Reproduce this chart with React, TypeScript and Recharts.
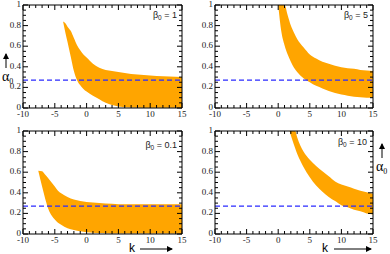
import { ComposedChart, Area, Line, XAxis, YAxis, ReferenceLine } from 'recharts'

// shared axis ticks
const xMajor = [-10, -5, 0, 5, 10, 15]
const yMajor = [0, 0.2, 0.4, 0.6, 0.8, 1]
const xTicks = [-10, -9, -8, -7, -6, -5, -4, -3, -2, -1, 0, 1, 2, 3, 4, 5, 6, 7, 8, 9, 10, 11, 12, 13, 14, 15]
const yTicks = [0, 0.05, 0.1, 0.15, 0.2, 0.25, 0.3, 0.35, 0.4, 0.45, 0.5, 0.55, 0.6, 0.65, 0.7, 0.75, 0.8, 0.85, 0.9, 0.95, 1]
const alphaRef = 0.27

// beta0 = 1
const kB1 = [-3.7, -3.3, -3, -2.5, -2, -1.5, -1, -0.5, 0, 1, 2, 3, 4, 5, 7, 9, 11, 13, 15]
const loB1 = [0.84, 0.72, 0.64, 0.5, 0.36, 0.27, 0.22, 0.185, 0.16, 0.12, 0.085, 0.05, 0.03, 0.015, 0.005, 0.003, 0.002, 0.002, 0.002]
const hiB1 = [0.84, 0.82, 0.79, 0.75, 0.68, 0.61, 0.56, 0.52, 0.49, 0.43, 0.39, 0.37, 0.36, 0.35, 0.33, 0.32, 0.31, 0.305, 0.3]

// beta0 = 5
const kB5 = [0, 0.5, 1, 1.5, 2, 2.5, 3, 4, 5, 6, 7, 8, 9, 10, 11, 12, 13, 14, 15]
const loB5 = [1, 0.74, 0.61, 0.52, 0.45, 0.39, 0.35, 0.29, 0.25, 0.215, 0.19, 0.165, 0.145, 0.13, 0.12, 0.11, 0.105, 0.1, 0.1]
const hiB5 = [1, 1, 1, 0.9, 0.8, 0.73, 0.67, 0.59, 0.52, 0.48, 0.45, 0.43, 0.41, 0.395, 0.385, 0.38, 0.37, 0.365, 0.36]

// beta0 = 0.1
const kB01 = [-7.6, -7, -6.5, -6, -5.5, -5, -4.5, -4, -3, -2, -1, 0, 1, 2, 3, 5, 7, 10, 15]
const loB01 = [0.615, 0.46, 0.34, 0.24, 0.18, 0.14, 0.11, 0.09, 0.055, 0.038, 0.026, 0.018, 0.013, 0.01, 0.008, 0.006, 0.005, 0.004, 0.003]
const hiB01 = [0.615, 0.61, 0.575, 0.54, 0.5, 0.46, 0.42, 0.395, 0.36, 0.335, 0.32, 0.31, 0.305, 0.3, 0.295, 0.29, 0.29, 0.29, 0.29]

// beta0 = 10
const kB10 = [1.8, 2.2, 2.7, 3, 3.5, 4, 5, 6, 7, 8, 9, 10, 11, 12, 13, 14, 15]
const loB10 = [1, 0.92, 0.83, 0.78, 0.71, 0.65, 0.55, 0.47, 0.41, 0.36, 0.32, 0.28, 0.26, 0.235, 0.22, 0.2, 0.19]
const hiB10 = [1, 1, 1, 0.94, 0.86, 0.8, 0.72, 0.66, 0.61, 0.56, 0.51, 0.48, 0.46, 0.44, 0.42, 0.405, 0.39]

const toRows = (k: number[], lo: number[], hi: number[]) => k.map((v, i) => ({ k: v, lo: lo[i], hi: hi[i] }))

const SERIF = '"Liberation Serif", "DejaVu Serif", serif'
const SANS = '"Liberation Sans", Arial, sans-serif'

const isMajor = (list: number[], v: number) => list.some((m) => Math.abs(m - v) < 1e-6)

// ticks point inward on all four sides, labels only on bottom / left
function tickFor(side: 'bottom' | 'top' | 'left' | 'right') {
  return (props: any) => {
    const x = Number(props.x)
    const y = Number(props.y)
    const v = props.payload.value
    const major = side === 'bottom' || side === 'top' ? isMajor(xMajor, v) : isMajor(yMajor, v)
    const len = major ? 5 : 3
    let d = ''
    if (side === 'bottom') d = `M${x},${y}V${y - len}`
    else if (side === 'top') d = `M${x},${y}V${y + len}`
    else if (side === 'left') d = `M${x},${y}H${x + len}`
    else d = `M${x},${y}H${x - len}`
    let label = null
    if (major && side === 'bottom') {
      label = (
        <text x={x} y={y + 9} textAnchor="middle" fontSize={9} style={{ fontFamily: SERIF }} fill="#222">
          {String(v)}
        </text>
      )
    } else if (major && side === 'left') {
      label = (
        <text x={x - 2} y={y + 2} textAnchor="end" fontSize={9} style={{ fontFamily: SERIF }} fill="#222">
          {String(v)}
        </text>
      )
    }
    return (
      <g>
        <path d={d} stroke="#000" strokeWidth={1} fill="none" />
        {label}
      </g>
    )
  }
}

interface PanelProps {
  rows: { k: number; lo: number; hi: number }[]
  left: number
  top: number
  right: number
}

function Panel({ rows, left, top, right }: PanelProps) {
  return (
    <div style={{ position: 'absolute', left, top }}>
      <ComposedChart width={195} height={122} data={rows} margin={{ top: 4, right, left: 0, bottom: 0 }}>
        <XAxis
          dataKey="k"
          type="number"
          domain={[-10, 15]}
          ticks={xTicks}
          interval={0}
          allowDataOverflow
          height={14}
          tickSize={0}
          tickMargin={0}
          tickLine={false}
          axisLine={{ stroke: '#000' }}
          tick={tickFor('bottom')}
        />
        <XAxis
          xAxisId="top"
          dataKey="k"
          orientation="top"
          type="number"
          domain={[-10, 15]}
          ticks={xTicks}
          interval={0}
          allowDataOverflow
          height={1}
          tickSize={0}
          tickMargin={0}
          tickLine={false}
          axisLine={{ stroke: '#000' }}
          tick={tickFor('top')}
        />
        <YAxis
          type="number"
          domain={[0, 1]}
          ticks={yTicks}
          interval={0}
          allowDataOverflow
          width={23}
          tickSize={0}
          tickMargin={0}
          tickLine={false}
          axisLine={{ stroke: '#000' }}
          tick={tickFor('left')}
        />
        <YAxis
          yAxisId="right"
          orientation="right"
          type="number"
          domain={[0, 1]}
          ticks={yTicks}
          interval={0}
          allowDataOverflow
          width={1}
          tickSize={0}
          tickMargin={0}
          tickLine={false}
          axisLine={{ stroke: '#000' }}
          tick={tickFor('right')}
        />
        <Area
          type="monotone"
          dataKey={(d: any) => [d.lo, d.hi]}
          stroke="none"
          fill="#ffa500"
          fillOpacity={1}
          isAnimationActive={false}
        />
        {/* invisible series so the mirrored top/right axes get drawn */}
        <Line
          xAxisId="top"
          yAxisId="right"
          dataKey="hi"
          stroke="none"
          dot={false}
          activeDot={false}
          legendType="none"
          isAnimationActive={false}
        />
        <ReferenceLine y={alphaRef} stroke="#2b2bff" strokeWidth={1.3} strokeDasharray="5 3" />
      </ComposedChart>
    </div>
  )
}

function BetaLabel({ x, y, value }: { x: number; y: number; value: string }) {
  return (
    <text x={x} y={y} textAnchor="end" fontSize={9} style={{ fontFamily: SANS }} fill="#222">
      <tspan>β</tspan>
      <tspan dy={2} fontSize={6.5}>0</tspan>
      <tspan dy={-2}>{' = ' + value}</tspan>
    </text>
  )
}

export default function App() {
  return (
    <div style={{ position: 'absolute', left: 0, top: 0, width: 390, height: 254, background: '#fff' }}>
      <Panel rows={toRows(kB1, loB1, hiB1)} left={0} top={0} right={12} />
      <Panel rows={toRows(kB5, loB5, hiB5)} left={192} top={0} right={13} />
      <Panel rows={toRows(kB01, loB01, hiB01)} left={0} top={126} right={12} />
      <Panel rows={toRows(kB10, loB10, hiB10)} left={192} top={126} right={13} />
      <svg width={390} height={254} style={{ position: 'absolute', left: 0, top: 0, pointerEvents: 'none' }}>
        <defs>
          <marker id="ah" markerWidth="6" markerHeight="6" refX="5" refY="3" orient="auto" markerUnits="userSpaceOnUse">
            <path d="M0,0 L6,3 L0,6 z" fill="#000" />
          </marker>
        </defs>
        <BetaLabel x={177} y={18} value="1" />
        <BetaLabel x={368} y={18} value="5" />
        <BetaLabel x={177} y={148} value="0.1" />
        <BetaLabel x={367} y={145} value="10" />

        {/* alpha0 axis titles */}
        <line x1={6} y1={68} x2={6} y2={54} stroke="#000" strokeWidth={1} markerEnd="url(#ah)" />
        <text x={2} y={81} fontSize={14} style={{ fontFamily: SERIF }} fill="#000">
          <tspan>α</tspan>
          <tspan dy={3} fontSize={8}>0</tspan>
        </text>
        <line x1={382} y1={158} x2={382} y2={144} stroke="#000" strokeWidth={1} markerEnd="url(#ah)" />
        <text x={376} y={171} fontSize={14} style={{ fontFamily: SERIF }} fill="#000">
          <tspan>α</tspan>
          <tspan dy={3} fontSize={8}>0</tspan>
        </text>

        {/* k axis titles */}
        <text x={129} y={252} fontSize={12} style={{ fontFamily: SANS }} fill="#000">k</text>
        <line x1={140} y1={249} x2={172} y2={249} stroke="#000" strokeWidth={1} markerEnd="url(#ah)" />
        <text x={322} y={252} fontSize={12} style={{ fontFamily: SANS }} fill="#000">k</text>
        <line x1={334} y1={249} x2={371} y2={249} stroke="#000" strokeWidth={1} markerEnd="url(#ah)" />
      </svg>
    </div>
  )
}
